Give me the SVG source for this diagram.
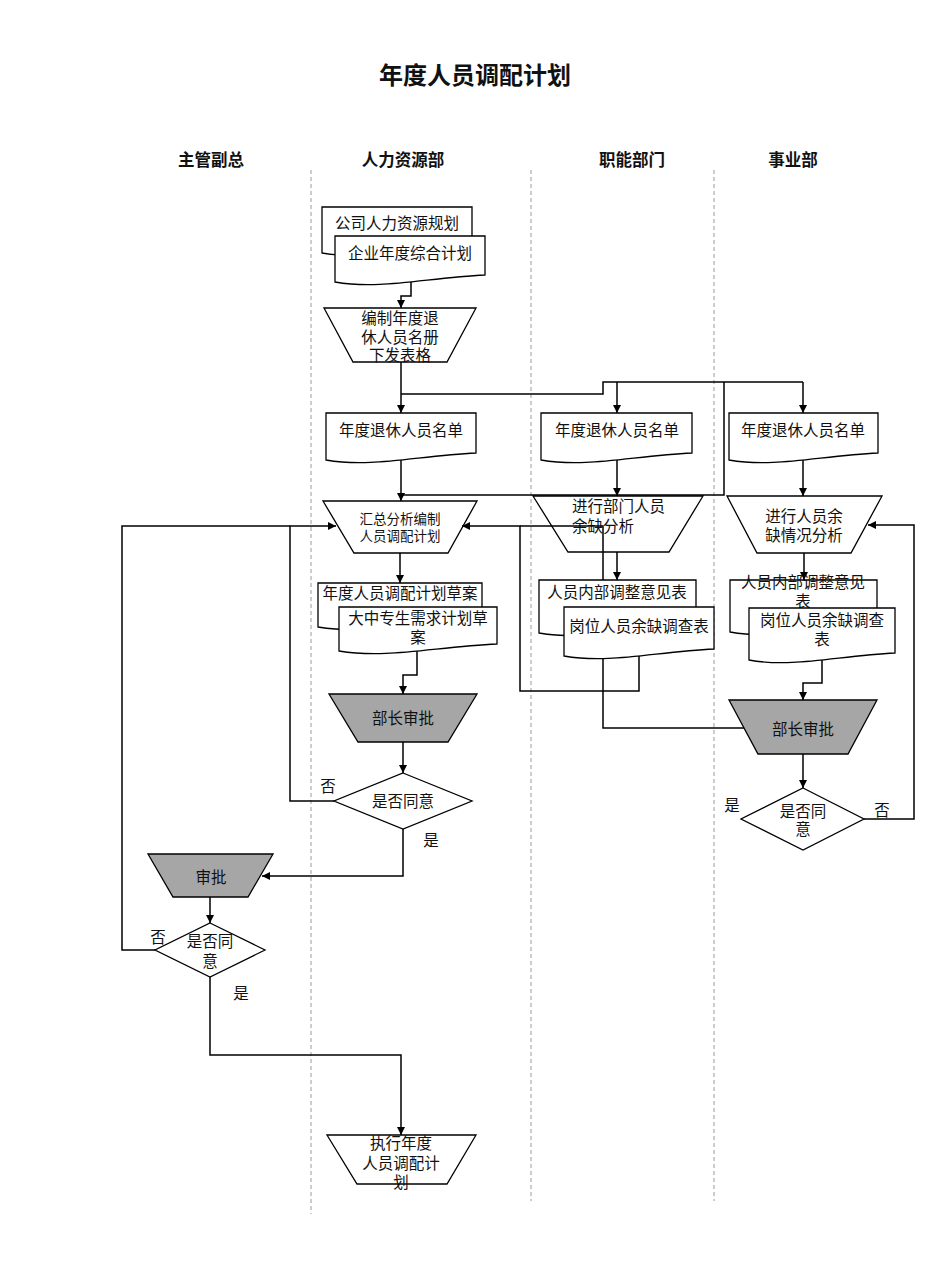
<svg xmlns="http://www.w3.org/2000/svg" width="950" height="1267" viewBox="0 0 950 1267">
<style>
text{font-family:"Noto Sans CJK SC","Liberation Sans",sans-serif;fill:#111;text-anchor:middle}
.t{font-size:15.5px}
.s{font-size:13.5px}
.h{font-size:16.5px;font-weight:bold}
.title{font-size:24px;font-weight:bold}
.lane{stroke:#9a9a9a;stroke-width:1;stroke-dasharray:4 3;fill:none}
.n{fill:#fff;stroke:#000;stroke-width:1.3}
.g{fill:#a6a6a6;stroke:#000;stroke-width:1.3}
.c{fill:none;stroke:#000;stroke-width:1.5}
.a{marker-end:url(#ar)}
</style>
<defs>
<marker id="ar" markerUnits="userSpaceOnUse" markerWidth="9" markerHeight="8" refX="8" refY="4" orient="auto">
<path d="M0,0 L8,4 L0,8 z" fill="#000"/>
</marker>
</defs>
<rect width="950" height="1267" fill="#fff"/>
<text class="title" x="475" y="84">年度人员调配计划</text>
<g id="lanes">
<line class="lane" x1="311" y1="170" x2="311" y2="1214"/>
<line class="lane" x1="531" y1="170" x2="531" y2="1201"/>
<line class="lane" x1="714" y1="170" x2="714" y2="1201"/>
<text class="h" x="211" y="166">主管副总</text>
<text class="h" x="403" y="166">人力资源部</text>
<text class="h" x="632" y="166">职能部门</text>
<text class="h" x="793" y="166">事业部</text>
</g>
<g id="n_bianzhi">
<polygon class="n" points="324,308 476,308 447,362 353,362"/>
<text class="t" x="400" y="324">编制年度退</text>
<text class="t" x="400" y="343">休人员名册</text>
<text class="t" x="400" y="361">下发表格</text>
</g>
<g id="n_huizong">
<polygon class="n" points="323,501 477,501 448,553 354,553"/>
<text class="s" x="400" y="524">汇总分析编制</text>
<text class="s" x="400" y="541">人员调配计划</text>
</g>
<g id="n_zn_fenxi">
<polygon class="n" points="533,496 703,496 669,552 568,552"/>
<text class="t" x="572" y="512" style="text-anchor:start">进行部门人员</text>
<text class="t" x="572" y="532" style="text-anchor:start">余缺分析</text>
</g>
<g id="n_sy_fenxi">
<polygon class="n" points="727,496 882,496 851,553 757,553"/>
<text class="t" x="804" y="522">进行人员余</text>
<text class="t" x="804" y="541">缺情况分析</text>
</g>
<g id="n_hr_shenpi">
<polygon class="g" points="329,694 477,694 448,742 358,742"/>
<text class="t" x="403" y="724">部长审批</text>
</g>
<g id="n_hr_tongyi">
<polygon class="n" points="403,773 472,801 403,829 334,801"/>
<text class="t" x="403" y="807">是否同意</text>
</g>
<g id="n_fz_shenpi">
<polygon class="g" points="148,854 273,854 248,897 173,897"/>
<text class="t" x="211" y="883">审批</text>
</g>
<g id="n_fz_tongyi">
<polygon class="n" points="210,923 265,950 210,977 155,950"/>
<text class="t" x="210" y="947">是否同</text>
<text class="t" x="210" y="967">意</text>
</g>
<g id="n_sy_shenpi">
<polygon class="g" points="729,700 877,700 848,754 758,754"/>
<text class="t" x="803" y="735">部长审批</text>
</g>
<g id="n_sy_tongyi">
<polygon class="n" points="803,788 864,819 803,850 741,819"/>
<text class="t" x="803" y="817">是否同</text>
<text class="t" x="803" y="835">意</text>
</g>
<g id="n_zhixing">
<polygon class="n" points="327,1135 476,1135 447,1184 357,1184"/>
<text class="t" x="401" y="1149">执行年度</text>
<text class="t" x="401" y="1169">人员调配计</text>
<text class="t" x="401" y="1188">划</text>
</g>
<g id="labels">
<text class="t" x="328" y="792">否</text>
<text class="t" x="431" y="846">是</text>
<text class="t" x="158" y="943">否</text>
<text class="t" x="241" y="999">是</text>
<text class="t" x="732" y="811">是</text>
<text class="t" x="882" y="816">否</text>
</g>
<g id="connectors">
<path class="c a" d="M411,279 V296 H401 V308"/>
<path class="c a" d="M401,362 V413"/>
<path class="c" d="M401,394 H603 V382 H803"/>
<path class="c a" d="M803,382 V413"/>
<path class="c a" d="M617,382 V413"/>
<path class="c" d="M724,382 V495 H401"/>
<path class="c a" d="M401,459 V501"/>
<path class="c a" d="M617,459 V496"/>
<path class="c a" d="M803,458 V496"/>
<path class="c a" d="M400,553 V583"/>
<path class="c a" d="M617,552 V580"/>
<path class="c a" d="M804,553 V580"/>
<path class="c a" d="M417,649 V675 H403 V694"/>
<path class="c a" d="M403,742 V773"/>
<path class="c a" d="M334,801 H290 V526 H336"/>
<path class="c a" d="M403,829 V876 H262"/>
<path class="c a" d="M210,897 V923"/>
<path class="c" d="M155,950 H122 V526 H290"/>
<path class="c a" d="M210,977 V1055 H401 V1135"/>
<path class="c a" d="M639,655 V691 H520 V526 H462"/>
<path class="c" d="M744,728 H603 V526 H520"/>
<path class="c a" d="M822,657 V683 H803 V700"/>
<path class="c a" d="M803,754 V788"/>
<path class="c a" d="M864,819 H914 V525 H868"/>
</g>
<g id="n_doc_guihua">
<path class="n" d="M322,207 H472 V246 C412,249 367,261 322,253 Z"/>
<text class="t" x="397" y="229">公司人力资源规划</text>
</g>
<g id="n_doc_qiye">
<path class="n" d="M335,236 H485 V275 C425,278 380,290 335,282 Z"/>
<text class="t" x="410" y="259">企业年度综合计划</text>
</g>
<g id="n_doc_hr_mingdan">
<path class="n" d="M326,413 H476 V453 C416,456 371,468 326,460 Z"/>
<text class="t" x="401" y="436">年度退休人员名单</text>
</g>
<g id="n_doc_zn_mingdan">
<path class="n" d="M541,413 H692 V453 C631.6,456 586.3,468 541,460 Z"/>
<text class="t" x="617" y="436">年度退休人员名单</text>
</g>
<g id="n_doc_sy_mingdan">
<path class="n" d="M729,413 H878 V453 C818.4,456 773.7,468 729,460 Z"/>
<text class="t" x="803" y="436">年度退休人员名单</text>
</g>
<g id="n_doc_caoan">
<path class="n" d="M318,583 H482 V620 C416.4,623 367.2,635 318,627 Z"/>
<text class="t" x="400" y="599">年度人员调配计划草案</text>
</g>
<g id="n_doc_dazhong">
<path class="n" d="M339,607 H497 V644 C433.8,647 386.4,659 339,651 Z"/>
<text class="t" x="418" y="624">大中专生需求计划草</text>
<text class="t" x="418" y="643">案</text>
</g>
<g id="n_doc_zn_yijian">
<path class="n" d="M539,580 H696 V626 C633.2,629 586.1,641 539,633 Z"/>
<text class="t" x="617" y="598">人员内部调整意见表</text>
</g>
<g id="n_doc_zn_diaocha">
<path class="n" d="M564,607 H714 V649 C654,652 609,664 564,656 Z"/>
<text class="t" x="639" y="632">岗位人员余缺调查表</text>
</g>
<g id="n_doc_sy_yijian">
<path class="n" d="M730,580 H877 V625 C818.2,628 774.1,640 730,632 Z"/>
<text class="t" x="803" y="588">人员内部调整意见</text>
<text class="t" x="803" y="607">表</text>
</g>
<g id="n_doc_sy_diaocha">
<path class="n" d="M749,608 H895 V653 C836.6,656 792.8,668 749,660 Z"/>
<text class="t" x="822" y="626">岗位人员余缺调查</text>
<text class="t" x="822" y="645">表</text>
</g>
</svg>
